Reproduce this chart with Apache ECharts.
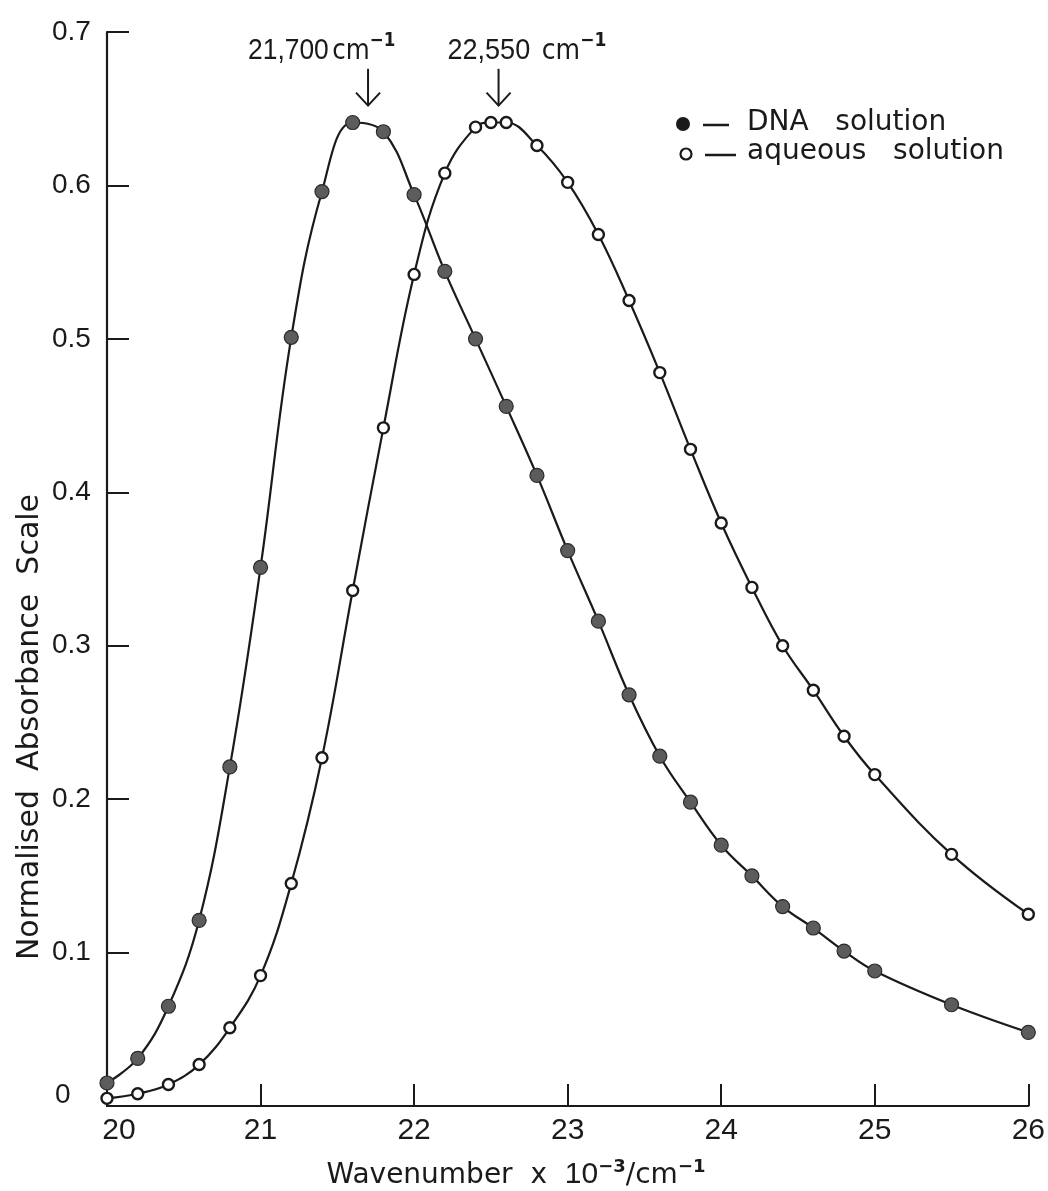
<!DOCTYPE html>
<html>
<head>
<meta charset="utf-8">
<title>Normalised absorbance spectra</title>
<script src="https://cdn.jsdelivr.net/npm/echarts@6/dist/echarts.min.js"></script>
<style>
  html, body { margin: 0; padding: 0; background: #ffffff; }
  #chart { width: 1048px; height: 1191px; }
</style>
</head>
<body>
<div id="chart"></div>
<script>
// Measured spectra (wavenumber in 10^3 cm^-1, normalised absorbance)
const dnaWavenumber = [20.0, 20.2, 20.4, 20.6, 20.8, 21.0, 21.2, 21.4, 21.6, 21.8,
  22.0, 22.2, 22.4, 22.6, 22.8, 23.0, 23.2, 23.4, 23.6, 23.8,
  24.0, 24.2, 24.4, 24.6, 24.8, 25.0, 25.5, 26.0];
const dnaAbsorbance = [0.015, 0.031, 0.065, 0.121, 0.221, 0.351, 0.501, 0.596, 0.641, 0.635,
  0.594, 0.544, 0.500, 0.456, 0.411, 0.362, 0.316, 0.268, 0.228, 0.198,
  0.170, 0.150, 0.130, 0.116, 0.101, 0.088, 0.066, 0.048];

const aqueousWavenumber = [20.0, 20.2, 20.4, 20.6, 20.8, 21.0, 21.2, 21.4, 21.6, 21.8,
  22.0, 22.2, 22.4, 22.5, 22.6, 22.8, 23.0, 23.2, 23.4, 23.6,
  23.8, 24.0, 24.2, 24.4, 24.6, 24.8, 25.0, 25.5, 26.0];
const aqueousAbsorbance = [0.005, 0.008, 0.014, 0.027, 0.051, 0.085, 0.145, 0.227, 0.336, 0.442,
  0.542, 0.608, 0.638, 0.641, 0.641, 0.626, 0.602, 0.568, 0.525, 0.478,
  0.428, 0.380, 0.338, 0.300, 0.271, 0.241, 0.216, 0.164, 0.125];

const seriesNames = ['DNA   solution', 'aqueous   solution'];

// Band maxima marked with arrows (cm^-1)
const peakWavenumbers = [21700, 22550];
const peakUnitText = ['cm', ' cm'];

// Axis tick labels
const xTickLabels = ['20', '21', '22', '23', '24', '25', '26'];
const yTickLabels = ['0', '0.1', '0.2', '0.3', '0.4', '0.5', '0.6', '0.7'];

const INK = '#1a1a1a';
const NUM_FONT = '"Liberation Sans", Arial, sans-serif';
const TEXT_FONT = '"DejaVu Sans", "Liberation Sans", sans-serif';

const chart = echarts.init(document.getElementById('chart'), null, { renderer: 'canvas' });

function pairs(xs, ys) {
  return xs.map((x, i) => [x, ys[i]]);
}

chart.setOption({
  animation: false,
  backgroundColor: '#ffffff',
  grid: { left: 107, right: 18, top: 32, bottom: 85 },
  xAxis: {
    type: 'value',
    min: 20,
    max: 26,
    interval: 1,
    axisLine: { lineStyle: { color: INK, width: 2.2 } },
    axisTick: { inside: true, length: 22, lineStyle: { color: INK, width: 2 } },
    splitLine: { show: false },
    axisLabel: {
      margin: 10,
      color: INK,
      fontFamily: NUM_FONT,
      fontSize: 30,
      formatter: function (v) {
        const i = Math.round(v - 20);
        return i === 0 ? '{first|' + xTickLabels[i] + '}' : xTickLabels[i];
      },
      rich: {
        first: { fontFamily: NUM_FONT, fontSize: 30, color: INK, padding: [0, 0, 0, 24] }
      }
    }
  },
  yAxis: {
    type: 'value',
    min: 0,
    max: 0.7,
    interval: 0.1,
    axisLine: { show: true, lineStyle: { color: INK, width: 2.2 } },
    axisTick: { show: true, inside: true, length: 22, lineStyle: { color: INK, width: 2 } },
    splitLine: { show: false },
    axisLabel: {
      align: 'left',
      margin: 55,
      color: INK,
      fontFamily: NUM_FONT,
      fontSize: 28,
      formatter: function (v) {
        const i = Math.round(v * 10);
        return i === 0 ? '{zero|' + yTickLabels[i] + '}' : yTickLabels[i];
      },
      rich: {
        zero: { fontFamily: NUM_FONT, fontSize: 28, color: INK, padding: [0, 0, 22, 3] }
      }
    }
  },
  series: [
    {
      name: seriesNames[0],
      type: 'line',
      data: pairs(dnaWavenumber, dnaAbsorbance),
      smooth: 0.4,
      symbol: 'circle',
      symbolSize: 14,
      showSymbol: true,
      lineStyle: { color: INK, width: 2.2 },
      itemStyle: { color: '#5c5c5c', borderColor: '#2b2b2b', borderWidth: 1.2 },
      z: 3
    },
    {
      name: seriesNames[1],
      type: 'line',
      data: pairs(aqueousWavenumber, aqueousAbsorbance),
      smooth: 0.4,
      symbol: 'circle',
      symbolSize: 11,
      showSymbol: true,
      lineStyle: { color: INK, width: 2.2 },
      itemStyle: { color: '#ffffff', borderColor: INK, borderWidth: 2.4 },
      z: 2
    }
  ]
});

// Annotations, axis titles and key, positioned from the axis scales where tied to data
function px(x, y) {
  return chart.convertToPixel({ gridIndex: 0 }, [x, y]);
}

const graphics = [];

const labelShift = [-120, -51];
const labelScale = [0.88, 0.9];
peakWavenumbers.forEach(function (w, i) {
  const x = w / 1000;
  const tip = px(x, 0.652);
  const top = px(x, 0.676);
  graphics.push({
    type: 'line',
    shape: { x1: tip[0], y1: top[1], x2: tip[0], y2: tip[1] },
    style: { stroke: INK, lineWidth: 2 }
  });
  graphics.push({
    type: 'polyline',
    shape: { points: [[tip[0] - 12, tip[1] - 13], [tip[0], tip[1]], [tip[0] + 12, tip[1] - 13]] },
    style: { stroke: INK, lineWidth: 2, fill: null }
  });
  const numText = w.toLocaleString('en-US');
  graphics.push({
    type: 'text',
    x: tip[0] + labelShift[i],
    y: top[1] - 3,
    scaleX: labelScale[i],
    style: {
      text: '{num|' + numText + '}{unit|' + peakUnitText[i] + '}{sup|−1}',
      align: 'left',
      verticalAlign: 'bottom',
      rich: {
        num: { fontFamily: NUM_FONT, fontSize: 30, fill: INK, lineHeight: 34, verticalAlign: 'bottom' },
        unit: { fontFamily: TEXT_FONT, fontSize: 28, fill: INK, lineHeight: 34, verticalAlign: 'bottom', padding: [0, 0, 0, 4] },
        sup: { fontFamily: TEXT_FONT, fontSize: 19, fill: INK, lineHeight: 20, verticalAlign: 'top', fontWeight: 'bold' }
      }
    }
  });
});

// Axis titles
graphics.push({
  type: 'text',
  x: 30,
  y: 727,
  rotation: Math.PI / 2,
  style: {
    text: 'Normalised  Absorbance  Scale',
    align: 'center',
    verticalAlign: 'middle',
    fontFamily: TEXT_FONT,
    fontSize: 30,
    fill: INK
  }
});
graphics.push({
  type: 'text',
  x: 516,
  y: 1174,
  style: {
    text: '{t|Wavenumber  x  }{n|10}{sup|−3}{t|/cm}{sup|−1}',
    align: 'center',
    verticalAlign: 'middle',
    rich: {
      t: { fontFamily: TEXT_FONT, fontSize: 28, fill: INK, lineHeight: 32, verticalAlign: 'bottom' },
      n: { fontFamily: NUM_FONT, fontSize: 30, fill: INK, lineHeight: 32, verticalAlign: 'bottom' },
      sup: { fontFamily: TEXT_FONT, fontSize: 18, fill: INK, lineHeight: 18, verticalAlign: 'top', fontWeight: 'bold' }
    }
  }
});

// Key
graphics.push(
  { type: 'circle', shape: { cx: 683, cy: 124, r: 7 }, style: { fill: INK } },
  { type: 'line', shape: { x1: 703, y1: 125, x2: 729, y2: 125 }, style: { stroke: INK, lineWidth: 2.5 } },
  { type: 'text', x: 747, y: 123, style: { text: seriesNames[0], align: 'left', verticalAlign: 'middle', fontFamily: TEXT_FONT, fontSize: 28, fill: INK } },
  { type: 'circle', shape: { cx: 686, cy: 154, r: 5.5 }, style: { fill: '#ffffff', stroke: INK, lineWidth: 2.2 } },
  { type: 'line', shape: { x1: 705, y1: 155, x2: 736, y2: 155 }, style: { stroke: INK, lineWidth: 2.5 } },
  { type: 'text', x: 747, y: 152, style: { text: seriesNames[1], align: 'left', verticalAlign: 'middle', fontFamily: TEXT_FONT, fontSize: 28, fill: INK } }
);

chart.setOption({ graphic: { elements: graphics } });
</script>
</body>
</html>
